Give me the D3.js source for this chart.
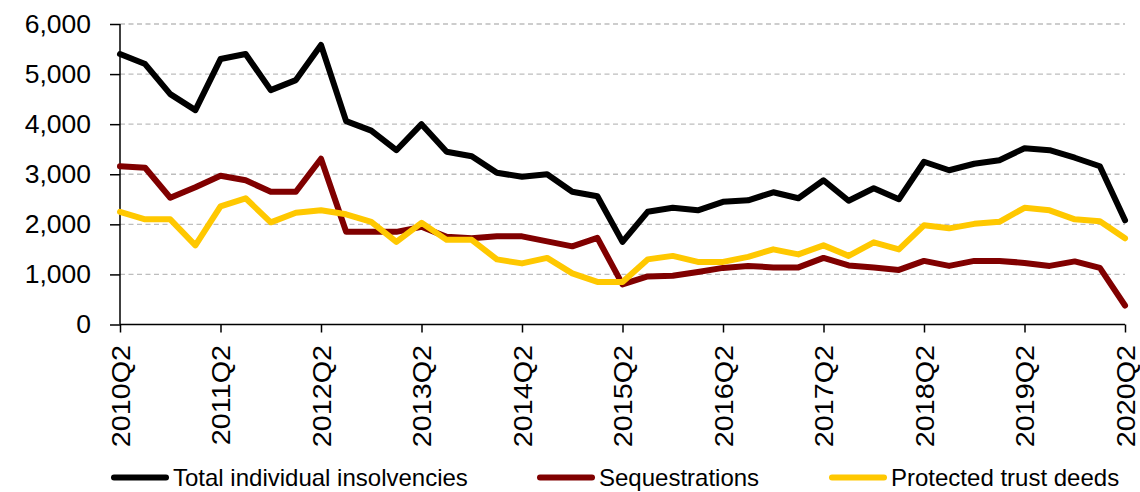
<!DOCTYPE html>
<html>
<head>
<meta charset="utf-8">
<script src="https://cdn.jsdelivr.net/npm/d3@7"></script>
<style>
  html, body { margin: 0; padding: 0; background: #fff; }
  svg { display: block; font-family: "Liberation Sans", Arial, sans-serif; }
</style>
</head>
<body>
<svg id="chart" width="1140" height="492"></svg>
<script>
// ---- data ----
const quarters = [
  "2010Q2","2010Q3","2010Q4","2011Q1","2011Q2","2011Q3","2011Q4","2012Q1",
  "2012Q2","2012Q3","2012Q4","2013Q1","2013Q2","2013Q3","2013Q4","2014Q1",
  "2014Q2","2014Q3","2014Q4","2015Q1","2015Q2","2015Q3","2015Q4","2016Q1",
  "2016Q2","2016Q3","2016Q4","2017Q1","2017Q2","2017Q3","2017Q4","2018Q1",
  "2018Q2","2018Q3","2018Q4","2019Q1","2019Q2","2019Q3","2019Q4","2020Q1",
  "2020Q2"
];
const totalInsolvencies = [
  5400, 5200, 4600, 4280, 5300, 5400, 4680, 4880,
  5580, 4060, 3870, 3480, 4000, 3450, 3360, 3030,
  2950, 3000, 2650, 2560, 1650, 2250, 2330, 2280,
  2450, 2480, 2640, 2520, 2880, 2470, 2720, 2500,
  3250, 3080, 3210, 3280, 3520, 3480, 3330, 3160,
  2080
];
const sequestrations = [
  3160, 3130, 2530, 2740, 2970, 2880, 2650, 2650,
  3310, 1850, 1850, 1850, 1950, 1750, 1720, 1760,
  1760, 1660, 1560, 1730, 800, 960, 975, 1050,
  1130, 1170, 1140, 1140, 1330, 1180, 1140, 1090,
  1270, 1170, 1270, 1270, 1230, 1170, 1260, 1130,
  380
];
const protectedTrustDeeds = [
  2250, 2100, 2100, 1580, 2360, 2520, 2040, 2230,
  2280, 2200, 2050, 1650, 2030, 1690, 1690, 1300,
  1220, 1330, 1020, 850, 850, 1300, 1370, 1250,
  1250, 1350, 1500, 1400, 1580, 1370, 1640, 1500,
  1980, 1920, 2010, 2050, 2330, 2280, 2100, 2060,
  1720
];
const yTicks = [0, 1000, 2000, 3000, 4000, 5000, 6000];
const xTickLabels = ["2010Q2","2011Q2","2012Q2","2013Q2","2014Q2","2015Q2",
                     "2016Q2","2017Q2","2018Q2","2019Q2","2020Q2"];
const seriesNames = ["Total individual insolvencies", "Sequestrations", "Protected trust deeds"];
const seriesColors = ["#000000", "#800000", "#FFC800"];

(function () {
// ---- layout ----
const svg = d3.select("#chart");
const plotL = 120, plotR = 1125, plotT = 24, plotB = 324.5;

const x = d3.scalePoint().domain(quarters).range([plotL, plotR]);
const y = d3.scaleLinear().domain([0, 6000]).range([plotB, plotT]);

// gridlines
svg.append("g")
  .selectAll("line")
  .data(yTicks.filter(d => d > 0))
  .join("line")
  .attr("x1", plotL).attr("x2", plotR)
  .attr("y1", d => y(d)).attr("y2", d => y(d))
  .attr("stroke", "#bdbdbd")
  .attr("stroke-width", 1.4)
  .attr("stroke-dasharray", "5,3.5");

// y axis
const yAxis = d3.axisLeft(y)
  .tickValues(yTicks)
  .tickSize(10)
  .tickPadding(19)
  .tickFormat(d3.format(","));
const gy = svg.append("g").attr("transform", `translate(${plotL},0)`).call(yAxis);
gy.select(".domain").attr("stroke", "#000").attr("stroke-width", 1.5).attr("d", `M0,${plotB}V${plotT}`);
gy.selectAll(".tick line").attr("stroke", "#000").attr("stroke-width", 1.5);
gy.selectAll(".tick text").attr("font-size", 26.5).attr("fill", "#000")
  .attr("font-family", "Liberation Sans, Arial, sans-serif");

// x axis
const xAxis = d3.axisBottom(x)
  .tickValues(xTickLabels)
  .tickSize(8)
  .tickPadding(0);
const gx = svg.append("g").attr("transform", `translate(0,${plotB})`).call(xAxis);
gx.select(".domain").attr("stroke", "#000").attr("stroke-width", 1.5).attr("d", `M${plotL},0H${plotR}`);
gx.selectAll(".tick line").attr("stroke", "#000").attr("stroke-width", 1.5);
gx.selectAll(".tick text")
  .attr("font-size", 25)
  .attr("fill", "#000")
  .attr("font-family", "Liberation Sans, Arial, sans-serif")
  .attr("text-anchor", "end")
  .attr("transform", "rotate(-90) scale(1.15,1)")
  .attr("x", -17.8)
  .attr("y", 0)
  .attr("dy", "0.36em");

// lines
const allSeries = [totalInsolvencies, sequestrations, protectedTrustDeeds];
const line = d3.line()
  .x((d, i) => x(quarters[i]))
  .y(d => y(d));

svg.append("g")
  .selectAll("path")
  .data(allSeries)
  .join("path")
  .attr("d", d => line(d))
  .attr("fill", "none")
  .attr("stroke", (d, i) => seriesColors[i])
  .attr("stroke-width", 6)
  .attr("stroke-linejoin", "round")
  .attr("stroke-linecap", "round");

// legend
const legendX = [112, 538, 830];
const legendY = 477.5;
const lg = svg.append("g")
  .selectAll("g")
  .data(seriesNames)
  .join("g")
  .attr("transform", (d, i) => `translate(${legendX[i]},${legendY})`);
lg.append("line")
  .attr("x1", 2).attr("x2", 54)
  .attr("stroke", (d, i) => seriesColors[i])
  .attr("stroke-width", 6)
  .attr("stroke-linecap", "round");
lg.append("text")
  .attr("x", 61)
  .attr("dy", "0.35em")
  .attr("font-size", 24)
  .attr("fill", "#000")
  .text(d => d);
})();
</script>
</body>
</html>
